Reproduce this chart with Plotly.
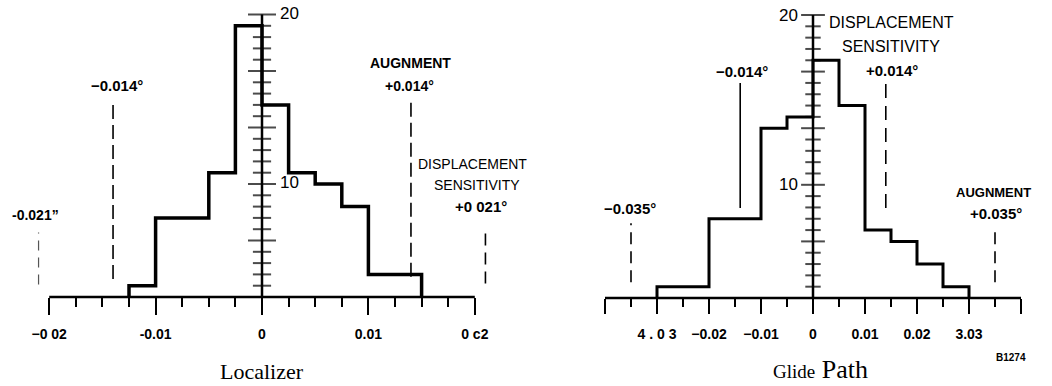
import plotly.graph_objects as go

W, H = 1052, 386

# ---------------- data ----------------
# Localizer histogram (bin edges in degrees, counts in axis tick units)
loc_edges = [-0.0125, -0.01, -0.0075, -0.005, -0.0025, 0.0, 0.0025, 0.005, 0.0075, 0.01, 0.0125, 0.015]
loc_counts = [1, 7, 7, 11, 24, 17, 11, 10, 8, 2, 2]
loc_axis_span = [-0.02, 0.02]
loc_tickvals = [-0.02, -0.01, 0.0, 0.01, 0.02]
loc_ticktext = ["\u22120 02", "-0.01", "0", "0.01", "0 c2"]
loc_minor = [-0.0175, -0.015, -0.0125, -0.0075, -0.005, -0.0025, 0.0025, 0.005, 0.0075, 0.0125, 0.015, 0.0175]
loc_limits = [-0.021, -0.014, 0.014, 0.021]
loc_limit_lo = [1.1, 1.6, 1.8, 1.2]
loc_limit_hi = [5.7, 17.4, 17.4, 6.1]

# Glide path histogram
gp_edges = [-0.03, -0.025, -0.02, -0.015, -0.01, -0.005, 0.0, 0.005, 0.01, 0.015, 0.02, 0.025, 0.03]
gp_counts = [1, 1, 7, 7, 15, 16, 21, 17, 6, 5, 3, 1]
gp_axis_span = [-0.04, 0.04]
gp_tickvals = [-0.04, -0.03, -0.02, -0.01, 0.0, 0.01, 0.02, 0.03, 0.04]
gp_ticktext = ["", "4 . 0 3", "\u22120.02", "\u22120.01", "0", "0.01", "0.02", "3.03", ""]
gp_minor = [-0.035, -0.025, -0.015, -0.005, 0.005, 0.015, 0.025, 0.035]
gp_limits = [-0.035, -0.014, 0.014, 0.035]
gp_limit_lo = [1.4, 7.95, 7.95, 1.4]
gp_limit_hi = [6.6, 19.0, 19.0, 6.3]

# vertical count axis (tick units) and its labels
count_ticks = list(range(0, 26))
count_major = 5
count_labels = {10: "10", 25: "20"}

# ---------------- helpers ----------------
def step_xy(edges, counts):
    xs = [edges[0]] + list(edges)
    ys = [0] + list(counts) + [0]
    return xs, ys

fig = go.Figure()

def add_panel(xa, ya, edges, counts, span, lw, tick_small, tick_big):
    xs, ys = step_xy(edges, counts)
    # baseline (abscissa)
    fig.add_trace(go.Scatter(x=span, y=[0, 0], mode="lines",
                             line=dict(color="black", width=2.5),
                             xaxis=xa, yaxis=ya, hoverinfo="skip"))
    # histogram outline
    fig.add_trace(go.Scatter(x=xs, y=ys, mode="lines",
                             line=dict(color="black", width=lw, shape="hv"),
                             xaxis=xa, yaxis=ya, hoverinfo="skip"))
    # vertical count axis at x = 0
    fig.add_trace(go.Scatter(x=[0, 0], y=[count_ticks[0], count_ticks[-1]], mode="lines",
                             line=dict(color="black", width=2.5),
                             xaxis=xa, yaxis=ya, hoverinfo="skip"))
    sizes = [tick_big if (t % count_major == 0 and t > 0) else tick_small for t in count_ticks[1:]]
    fig.add_trace(go.Scatter(x=[0] * (len(count_ticks) - 1), y=count_ticks[1:], mode="markers",
                             marker=dict(symbol="line-ew", size=sizes,
                                         line=dict(color="black", width=2)),
                             xaxis=xa, yaxis=ya, hoverinfo="skip"))

add_panel("x", "y", loc_edges, loc_counts, loc_axis_span, 3.5, 13, 20)
add_panel("x2", "y2", gp_edges, gp_counts, gp_axis_span, 3.0, 11, 17)

# alignment / displacement-sensitivity limit lines
loc_styles = [("#555", 1.2, "10px,7px"), ("black", 1.6, "14px,6px"),
              ("black", 1.6, "14px,6px"), ("black", 1.6, "12px,7px")]
for xv, lo, hi, (c, w, d) in zip(loc_limits, loc_limit_lo, loc_limit_hi, loc_styles):
    fig.add_trace(go.Scatter(x=[xv, xv], y=[lo, hi], mode="lines",
                             line=dict(color=c, width=w, dash=d),
                             xaxis="x", yaxis="y", hoverinfo="skip"))
gp_styles = [("black", 1.6, "12px,7px"), ("black", 1.6, "solid"),
             ("black", 1.6, "14px,8px"), ("black", 1.6, "12px,7px")]
for xv, lo, hi, (c, w, d) in zip(gp_limits, gp_limit_lo, gp_limit_hi, gp_styles):
    fig.add_trace(go.Scatter(x=[xv, xv], y=[lo, hi], mode="lines",
                             line=dict(color=c, width=w, dash=d),
                             xaxis="x2", yaxis="y2", hoverinfo="skip"))

# ---------------- annotations ----------------
SANS = "Liberation Sans, Arial, sans-serif"
SERIF = "Liberation Serif, Times New Roman, serif"

def note(text, x, y, xref, yref, size=14, bold=True, xanchor="center", family=SANS,
         yanchor="middle"):
    fig.add_annotation(text=text, x=x, y=y, xref=xref, yref=yref, showarrow=False,
                       xanchor=xanchor, yanchor=yanchor,
                       font=dict(family=family, size=size, color="black",
                                 weight="bold" if bold else "normal"))

# Localizer panel labels
note("-0.021\u201d", -0.02133, 7.26, "x", "y", 14, True)
note("\u22120.014\u00b0", -0.01363, 18.7, "x", "y", 15, True)
note("AUGNMENT", 0.0140, 20.7, "x", "y", 14, True)
note("+0.014\u00b0", 0.0139, 18.7, "x", "y", 14, True)
note("DISPLACEMENT", 0.01983, 11.77, "x", "y", 14, False)
note("SENSITIVITY", 0.0202, 9.9, "x", "y", 14, False)
note("+0 021\u00b0", 0.0206, 8.05, "x", "y", 15, True)
for t, lab in count_labels.items():
    note(lab, 0.0015, t + 0.1, "x", "y", 17, False, xanchor="left")

# Glide path panel labels
note("\u22120.035\u00b0", -0.0352, 7.95, "x2", "y2", 15, True)
note("\u22120.014\u00b0", -0.01365, 20.05, "x2", "y2", 15, True)
note("DISPLACEMENT", 0.0150, 24.3, "x2", "y2", 16, False)
note("SENSITIVITY", 0.0150, 22.2, "x2", "y2", 16, False)
note("+0.014\u00b0", 0.0152, 20.1, "x2", "y2", 15, True)
note("AUGNMENT", 0.0347, 9.36, "x2", "y2", 13, True)
note("+0.035\u00b0", 0.0352, 7.5, "x2", "y2", 15, True)
for t, lab in count_labels.items():
    note(lab, -0.0025, t, "x2", "y2", 17, False, xanchor="right")

# captions
note("Localizer", 262 / W, 0, "paper", "paper", 22, False, family=SERIF, yanchor="bottom")
note("<span style='font-size:19px'>Glide</span> Path", 820 / W, 0, "paper", "paper", 26, False,
     family=SERIF, yanchor="bottom")
note("B1274", 1011 / W, 29 / H, "paper", "paper", 10, True)

# ---------------- axes ----------------
# pixel geometry
L_x0, L_pxu = 262, 10640.0   # px of x=0 and px per degree (left)
R_x0, R_pxu = 813, 5200.0    # right
L_y0, L_pyu = 297, 11.3      # px of y=0 and px per count unit
R_y0, R_pyu = 298, 11.32

L_dom = [0, 520]
R_dom = [530, W]

def yrange(y0, pyu):
    return [-(H - y0) / pyu, y0 / pyu]

def zero_pos(y0):
    return (H - y0) / H

tickfont = dict(family=SANS, size=14, color="black", weight="bold")

fig.update_layout(
    width=W, height=H,
    margin=dict(l=0, r=0, t=0, b=0),
    paper_bgcolor="white", plot_bgcolor="white",
    showlegend=False,
    xaxis=dict(domain=[L_dom[0] / W, L_dom[1] / W],
               range=[(L_dom[0] - L_x0) / L_pxu, (L_dom[1] - L_x0) / L_pxu],
               anchor="free", position=zero_pos(L_y0),
               tickmode="array", tickvals=loc_tickvals, ticktext=loc_ticktext,
               ticks="outside", ticklen=17, tickwidth=2, tickcolor="black",
               ticklabelstandoff=7,
               minor=dict(tickmode="array", tickvals=loc_minor, ticks="outside",
                          ticklen=9, tickwidth=2, tickcolor="black"),
               tickfont=tickfont, showgrid=False, zeroline=False, showline=False),
    yaxis=dict(domain=[0, 1], range=yrange(L_y0, L_pyu), visible=False,
               anchor="x", showgrid=False, zeroline=False),
    xaxis2=dict(domain=[R_dom[0] / W, R_dom[1] / W],
                range=[(R_dom[0] - R_x0) / R_pxu, (R_dom[1] - R_x0) / R_pxu],
                anchor="free", position=zero_pos(R_y0),
                tickmode="array", tickvals=gp_tickvals, ticktext=gp_ticktext,
                ticks="outside", ticklen=15, tickwidth=2, tickcolor="black",
                ticklabelstandoff=8,
                minor=dict(tickmode="array", tickvals=gp_minor, ticks="outside",
                           ticklen=8, tickwidth=2, tickcolor="black"),
                tickfont=tickfont, showgrid=False, zeroline=False, showline=False),
    yaxis2=dict(domain=[0, 1], range=yrange(R_y0, R_pyu), visible=False,
                anchor="x2", showgrid=False, zeroline=False),
)

fig.write_html("out.html", config={"displayModeBar": False},
               post_script="document.body.style.margin='0';document.body.style.overflow='hidden';")
